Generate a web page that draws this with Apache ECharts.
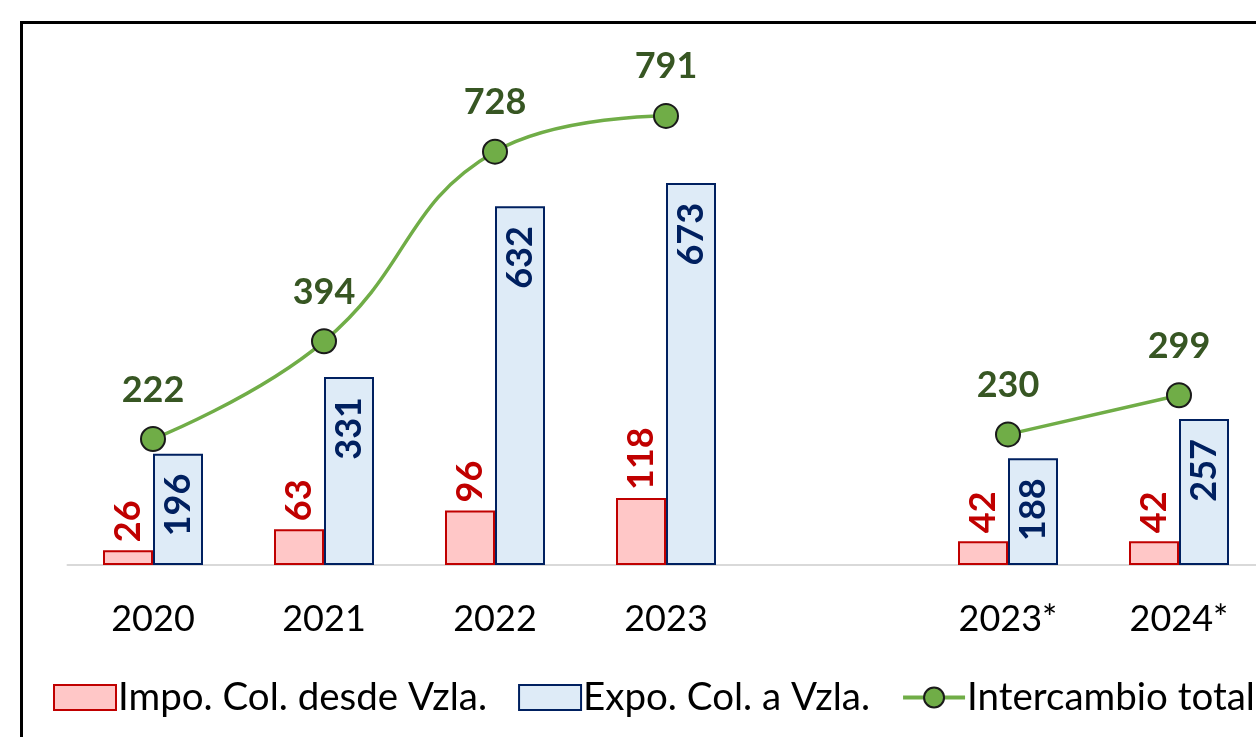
<!DOCTYPE html>
<html>
<head>
    <meta charset="utf-8">
    <title>Intercambio Colombia - Venezuela</title>
    <script src="https://cdn.jsdelivr.net/npm/echarts@6/dist/echarts.min.js"></script>
    <style>
        html, body { margin: 0; padding: 0; background: #fff; }
        #chart { width: 1256px; height: 737px; }
    </style>
</head>
<body>
    <div id="chart"></div>
    <script>
        // datos (el hueco separa la serie anual de los acumulados *)
        const years = ['2020', '2021', '2022', '2023', '', '2023*', '2024*'];
        const impo = [26, 63, 96, 118, null, 42, 42];
        const expo = [196, 331, 632, 673, null, 188, 257];
        const total = [222, 394, 728, 791, null, 230, 299];

        const fontName = 'Lato, "Open Sans", sans-serif';

        const option = {
            backgroundColor: '#fff',
            animation: false,
            graphic: [{
                type: 'rect',
                z: -10,
                shape: { x: 21.5, y: 22.5, width: 1400, height: 900 },
                style: { fill: 'none', stroke: '#000', lineWidth: 3 }
            }],
            legend: {
                left: 53,
                top: 678,
                padding: 0,
                itemWidth: 62,
                itemHeight: 25,
                itemGap: 31,
                textStyle: { fontFamily: fontName, fontSize: 38.5, color: '#000', padding: [0, 0, 0, -3] },
                data: [
                    { name: 'Impo. Col. desde Vzla.', icon: 'rect' },
                    { name: 'Expo. Col. a Vzla.', icon: 'rect' },
                    { name: 'Intercambio total', lineStyle: { width: 4 } }
                ]
            },
            grid: {
                left: 67.5,
                width: 1197,
                top: 54,
                bottom: 172,
                outerBoundsMode: 'none'
            },
            xAxis: {
                type: 'category',
                data: years,
                axisTick: { show: false },
                axisLine: { lineStyle: { color: '#d9d9d9', width: 2 } },
                axisLabel: {
                    color: '#000',
                    fontFamily: fontName,
                    fontSize: 36,
                    margin: 36
                }
            },
            yAxis: {
                type: 'value',
                min: 0,
                max: 900,
                show: false,
                splitLine: { show: false }
            },
            series: [
                {
                    name: 'Impo. Col. desde Vzla.',
                    type: 'bar',
                    data: impo,
                    barWidth: 50,
                    barGap: '0%',
                    itemStyle: { color: '#ffc7c7', borderColor: '#c00000', borderWidth: 2 },
                    label: {
                        show: true,
                        position: 'top',
                        rotate: 90,
                        align: 'left',
                        verticalAlign: 'middle',
                        distance: 8,
                        color: '#c00000',
                        fontFamily: fontName,
                        fontWeight: 'bold',
                        fontSize: 36
                    }
                },
                {
                    name: 'Expo. Col. a Vzla.',
                    type: 'bar',
                    data: expo,
                    barWidth: 50,
                    itemStyle: { color: '#deebf7', borderColor: '#002060', borderWidth: 2 },
                    label: {
                        show: true,
                        position: 'insideTop',
                        rotate: 90,
                        align: 'right',
                        verticalAlign: 'middle',
                        distance: 20,
                        color: '#002060',
                        fontFamily: fontName,
                        fontWeight: 'bold',
                        fontSize: 36
                    }
                },
                {
                    name: 'Intercambio total',
                    type: 'line',
                    data: total,
                    smooth: 0.45,
                    connectNulls: false,
                    symbol: 'circle',
                    symbolSize: 24,
                    z: 5,
                    lineStyle: { color: '#70ad47', width: 3.5 },
                    itemStyle: { color: '#70ad47', borderColor: '#1a1a1a', borderWidth: 2 },
                    label: {
                        show: true,
                        position: 'top',
                        distance: 18,
                        color: '#375623',
                        fontFamily: fontName,
                        fontWeight: 'bold',
                        fontSize: 36
                    }
                }
            ]
        };

        const myChart = echarts.init(document.getElementById('chart'));
        myChart.setOption(option);
    </script>
</body>
</html>
